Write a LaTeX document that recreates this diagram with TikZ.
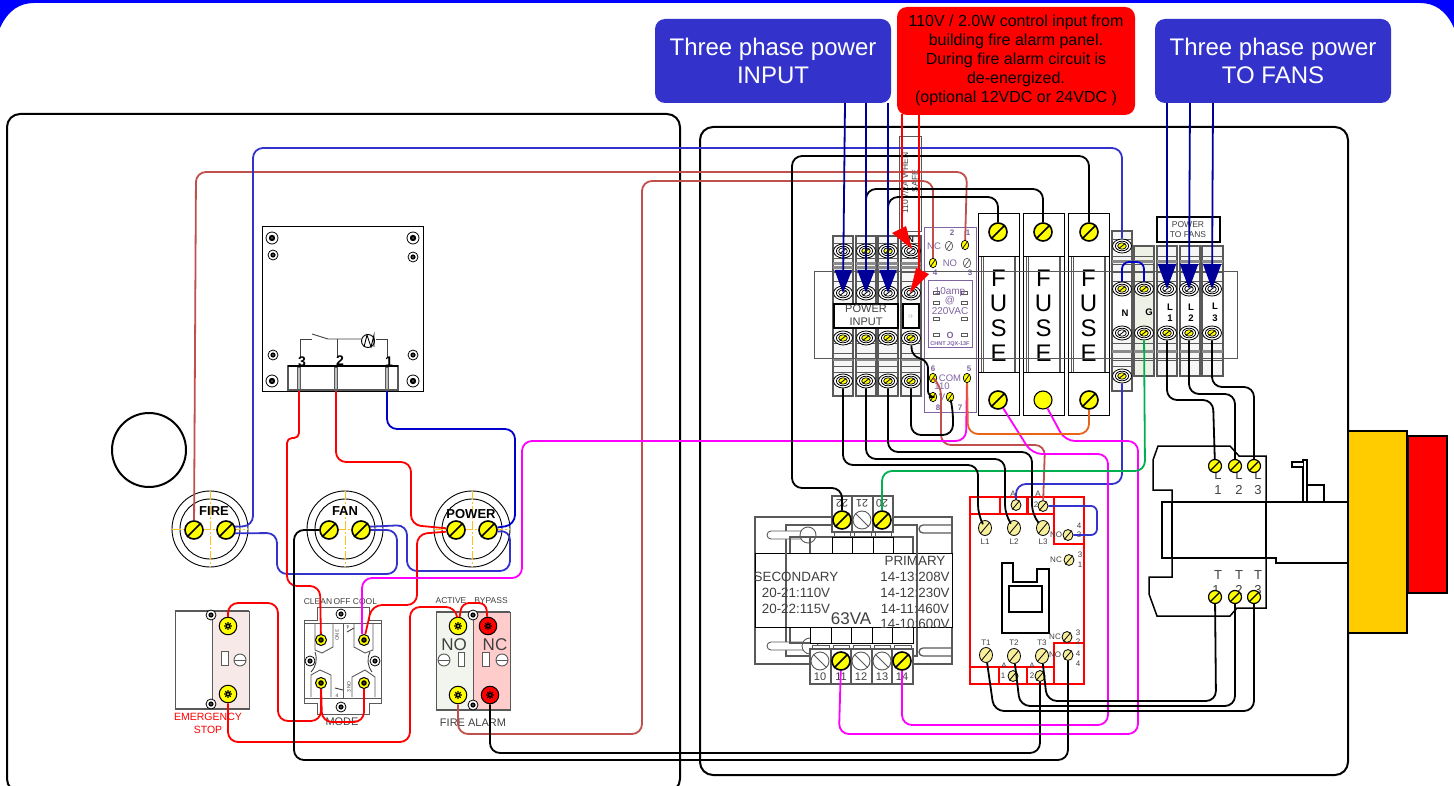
\documentclass[tikz,border=0pt]{standalone}
\usepackage{fontspec}
\setmainfont{Liberation Sans}
\usetikzlibrary{shapes.geometric,arrows.meta}
\definecolor{wbrown}{HTML}{C0504D}
\definecolor{wblue}{HTML}{3333CC}
\definecolor{dblue}{HTML}{0000CC}
\definecolor{nblue}{HTML}{000099}
\definecolor{wgreen}{HTML}{00B050}
\definecolor{worange}{HTML}{E8641B}
\definecolor{wmag}{HTML}{FF00FF}
\definecolor{scry}{HTML}{FFFF00}
\definecolor{palescr}{HTML}{F7EF9A}
\definecolor{relayp}{HTML}{8064A2}
\definecolor{lab}{HTML}{404040}
\definecolor{gline}{HTML}{595959}
\definecolor{capf}{HTML}{F6F6F6}
\definecolor{boxblue}{HTML}{3333CC}
\definecolor{ambr}{HTML}{FFCC00}
\definecolor{stopf}{HTML}{F6E9E7}
\definecolor{noF}{HTML}{F1F5ED}
\definecolor{ncF}{HTML}{FFCCCC}
\definecolor{gF}{HTML}{EDF1E6}
\definecolor{pureblue}{HTML}{0000FF}
\definecolor{cline}{HTML}{FFC020}
\tikzset{
 wire/.style={line width=1.8,rounded corners=10,line join=round},
 wbr/.style={wire,draw=wbrown},
 wbl/.style={wire,draw=wblue},
 wdb/.style={wire,draw=dblue},
 wrd/.style={wire,draw=red},
 wmg/.style={wire,draw=wmag},
 wgr/.style={wire,draw=wgreen},
 wor/.style={wire,draw=worange},
 wbk/.style={wire,draw=black},
 panel/.style={draw=black,line width=2,rounded corners=13},
 thin gray/.style={draw=gline,line width=0.9},
 thick gray/.style={draw=gline,line width=1.3},
 bigsc/.style={circle,draw=black,line width=1.6,fill=scry,minimum size=18,inner sep=0},
 whsc/.style={circle,draw=gline,line width=0.9,fill=white,minimum size=18,inner sep=0},
 outer ell/.style={ellipse,draw=black,line width=0.8,fill=white,minimum width=19,minimum height=14,inner sep=0},
 paleell/.style={ellipse,draw=black,line width=0.8,fill=palescr,minimum width=13,minimum height=15,inner sep=0},
 relayscr/.style={ellipse,draw=black,line width=0.7,fill=scry,minimum width=7.5,minimum height=9.5,inner sep=0},
 relaywh/.style={ellipse,draw=gline,line width=0.7,fill=white,minimum width=7.5,minimum height=9.5,inner sep=0},
 tinysc/.style={circle,draw=black,line width=0.8,fill=white,minimum size=10,inner sep=0},
 phil/.style={circle,draw=black,line width=1,minimum size=17.5,inner sep=0},
 txt/.style={inner sep=0,text=lab,align=center,font=\fontsize{#1}{#1}\selectfont},
 blk/.style={inner sep=0,text=black,align=center,font=\fontsize{#1}{#1}\selectfont},
 bldt/.style={inner sep=0,text=black,align=center,font=\bfseries\fontsize{#1}{#1}\selectfont},
 purp/.style={inner sep=0,text=relayp,align=center,font=\fontsize{#1}{#1}\selectfont},
 purpb/.style={inner sep=0,text=relayp,align=center,font=\bfseries\fontsize{#1}{#1}\selectfont},
 rdt/.style={inner sep=0,text=red,align=center,font=\fontsize{#1}{#1}\selectfont},
 phbox/.style={rounded corners=10,fill=boxblue,inner sep=0},
 redbar/.style={draw=red,line width=2},
}
% big slotted screw
\newcommand{\bscrew}[3]{\node[bigsc] (#1) at (#2,#3) {};\draw[line width=1.6] (#1.225)--(#1.45);}
\newcommand{\mscrew}[3]{\node[bigsc,minimum size=13,line width=1.2] (#1) at (#2,#3) {};\draw[line width=1.3] (#1.225)--(#1.45);}
\newcommand{\bplain}[3]{\node[bigsc,line width=1.1] (#1) at (#2,#3) {};}
\newcommand{\wscrew}[3]{\node[whsc] (#1) at (#2,#3) {};\draw[line width=0.8,draw=gline] (#1.135)--(#1.315);}
% terminal screw
\newcommand{\tscrew}[4]{\node[outer ell] (#1) at (#2,#3) {};
 \draw[line width=0.8,fill=white] (#2,#3) ellipse [x radius=6.6,y radius=4.8];
 \draw[line width=0.7,fill=#4] (#2,#3) ellipse [x radius=4.3,y radius=3.2];
 \draw[line width=0.8] (#2-2.6,#3+2)--(#2+2.6,#3-2);}
\newcommand{\pale}[3]{\node[paleell] (#1) at (#2,#3) {};\draw[line width=0.8] (#1.230)--(#1.50);}
\newcommand{\rscr}[3]{\node[relayscr] (#1) at (#2,#3) {};\draw[line width=0.7] (#1.235)--(#1.55);}
\newcommand{\rwh}[3]{\node[relaywh] (#1) at (#2,#3) {};\draw[line width=0.7,draw=gline] (#1.235)--(#1.55);}
\newcommand{\mnt}[3]{\node[tinysc] (#1) at (#2,#3) {};\fill[black] (#2,#3) circle (2.6);\fill[gray] (#2,#3) circle (0.8);}
\newcommand{\mntb}[3]{\node[tinysc,minimum size=12] (#1) at (#2,#3) {};\fill[black] (#2,#3) circle (3.2);\fill[gray] (#2,#3) circle (0.9);}
% phillips screw: name x y fill
\newcommand{\phl}[4]{\node[phil,fill=#4] (#1) at (#2,#3) {};
 \draw[line width=1.1] (#2-3.8,#3)--(#2+3.8,#3) (#2,#3-3.8)--(#2,#3+3.8) (#2-2.7,#3-2.7)--(#2+2.7,#3+2.7) (#2-2.7,#3+2.7)--(#2+2.7,#3-2.7);
 \fill[#4] (#2,#3) circle (1);}
\newcommand{\phs}[3]{\node[phil,fill=scry,minimum size=11] (#1) at (#2,#3) {};
 \fill[black] (#2,#3) circle (2.8);\fill[scry] (#2,#3) circle (0.7);}
% push button
\newcommand{\pushb}[2]{
 \draw[black,line width=0.9] (#1,#2) circle (38) (#1,#2) circle (30);
 \draw[cline,line width=0.9,dash pattern=on 9pt off 2pt on 2pt off 2pt] (#1-38,#2)--(#1+38,#2) (#1,#2-38)--(#1,#2+38);}
\newcommand{\bands}[4]{
 \foreach \yy in {#3}{\draw[thin gray] (#1,\yy)--(#2,\yy);}
 \foreach \yy in {#4}{\fill[gline!70] (#1,\yy) rectangle (#2,\yy+3);}}
\begin{document}
\begin{tikzpicture}[x=1pt,y=-1pt]
\useasboundingbox (0,0) rectangle (1454,786);
\clip (0,0) rectangle (1454,786);
% page frame
\fill[pureblue] (0,0)--(1454,0)--(1454,28) .. controls (1446,10) and (1434,3) .. (1420,3) -- (34,3) .. controls (20,3) and (8,10) .. (0,28) -- cycle;
% panels
\draw[panel] (7,114) rectangle (680,792);
\draw[panel] (700,127) rectangle (1348,775);
\draw[line width=2] (149,450) circle (37);
% ---------- thermostat / relay box
\draw[line width=1,draw=black] (262,227) rectangle (423,391);
\draw[thick gray] (288,366) rectangle (398,390);
\draw[line width=1.1,draw=black] (288,366)--(398,366);
\foreach \px in {299,336,387}{\draw[thin gray,fill=gline!40] (\px-1.5,367) rectangle (\px+1.5,389);}
\mntb{ra}{272}{238}\mntb{rb}{413}{238}\mntb{rc}{272}{381}\mntb{rd}{413}{381}
\mnt{re}{273}{255}\mnt{rf}{413}{257}\mnt{rg}{273}{355}\mnt{rh}{413}{355}
\draw[line width=0.9,draw=lab] (300,358)--(300,339)--(312,339);
\draw[line width=0.9,draw=lab] (312,334)--(328,339)--(361,339);
\draw[line width=0.9,draw=lab] (337,339)--(337,358);
\draw[line width=0.9,draw=lab] (376,339)--(387,339)--(387,358);
\node[circle,draw=black,line width=0.9,minimum size=13,inner sep=0] (motor) at (368,341) {};
\draw[line width=0.9] (364,347)--(367,335)--(371,347)--(374,335)--(374,347);
\node[bldt=14] (l3) at (302,362) {3};
\node[bldt=14] (l2) at (340,361) {2};
\node[bldt=14] (l1) at (389,362) {1};
% ---------- push buttons
\pushb{210}{529}\pushb{345}{529}\pushb{472}{529}
\bscrew{f1}{194}{530}\bscrew{f2}{226}{530}
\bscrew{n1}{329}{530}\bscrew{n2}{361}{530}
\bscrew{p1}{456}{530}\bscrew{p2}{488}{530}
\node[bldt=13] (fireL) at (214,511) {FIRE};
\node[bldt=13] (fanL) at (345,511) {FAN};
\node[bldt=13] (powL) at (471,514) {POWER};
% ---------- emergency stop
\draw[line width=1,draw=gline] (175,611) rectangle (249,709);
\draw[line width=1,draw=gline,fill=stopf] (212,611) rectangle (249,709);
\draw[line width=1.4,draw=gline] (175,611)--(249,611) (175,709)--(249,709);
\draw[thin gray,fill=white] (221,651) rectangle (228,665);
\draw[thin gray,fill=white] (240,660) circle (6);
\draw[thin gray] (234,660)--(246,660);
\mnt{e1}{211}{615}\mnt{e2}{211}{704}
\phl{e3}{228}{626}{scry}\phl{e4}{228}{694}{scry}
\node[rdt=10.5] (estop) at (208,723.5) {EMERGENCY\\[3pt]STOP};
% ---------- mode switch
\draw[line width=1,draw=gline,fill=white] (317,620)--(317,607)--(369,607)--(369,620)--(381,620)--(381,703)--(369,703)--(369,714)--(317,714)--(317,703)--(304,703)--(304,620)--cycle;
\draw[line width=1,draw=gline] (304,698)--(381,698) (304,623)--(381,623) (343,623)--(343,698);
\draw[thin gray] (315,624)--(315,650)--(322,653)--(333,647)--(333,624);
\draw[thin gray] (354,624)--(354,647)--(365,653)--(373,650)--(373,624);
\draw[thin gray] (311,697)--(311,675)--(320,670)--(331,675)--(331,697);
\draw[thin gray] (352,697)--(352,677)--(365,670)--(375,677)--(375,697);
\draw[line width=0.9,draw=lab] (315,652) to[bend left=30] (311,672);
\draw[line width=0.9,draw=lab] (370,652) to[bend right=30] (372,672);
\draw[line width=0.9,draw=lab] (335,688)--(343,690) (347,632)--(354,628);
\node[txt=5,rotate=-90] (m3) at (337,635) {3 NO};
\node[txt=5,rotate=90] (m4) at (349,687) {3 NO};
\node[txt=5] (m5) at (337,696) {4};
\node[txt=5,rotate=180] (m6) at (348,627) {4};
\mnt{m1}{341}{614}\mnt{m2}{341}{707}\mnt{m7}{310}{661}\mnt{m8}{375}{661}
\phs{mA}{321}{640}\phs{mB}{364}{640}\phs{mC}{321}{683}\phs{mD}{364}{683}
\node[txt=8.5] (clean) at (318,602) {CLEAN};
\node[txt=8.5] (off) at (342,602) {OFF};
\node[txt=8.5] (cool) at (365,602) {COOL};
\node[txt=11] (mode) at (342,722) {MODE};
% ---------- fire alarm contacts
\draw[line width=1,draw=gline,fill=noF] (436,612) rectangle (473,710);
\draw[line width=1,draw=gline,fill=ncF] (473,612) rectangle (510,710);
\draw[line width=1.4,draw=gline] (436,612)--(510,612) (436,710)--(510,710);
\draw[thin gray,fill=white] (458,652) rectangle (464,666);
\draw[thin gray,fill=white] (444,660) circle (6);
\draw[thin gray] (438,660)--(450,660);
\draw[thin gray,fill=white] (482,652) rectangle (489,666);
\draw[thin gray,fill=white] (502,660) circle (6);
\draw[thin gray] (496,660)--(508,660);
\mnt{a5}{473}{615}\mnt{a6}{473}{705}
\phl{a1}{458}{626}{scry}\phl{a2}{488}{626}{red}\phl{a3}{458}{695}{scry}\phl{a4}{490}{695}{red}
\node[txt=17] (noT) at (454,645) {NO};
\node[txt=17] (ncT) at (495,645) {NC};
\node[txt=8.5] (act) at (451,601) {ACTIVE};
\node[txt=8.5] (byp) at (491,601) {BYPASS};
\node[txt=11] (fal) at (473,723) {FIRE ALARM};
% ---------- power input terminals
\foreach \xa/\xb in {833/853,856/876,878/898,901/921}{
 \draw[thick gray,fill=capf] (\xa,236) rectangle (\xb,396);
 \bands{\xa}{\xb}{243,258,272,281,343,353,366,372}{262,266,358};
}
\draw[line width=1.8,fill=white] (834,304) rectangle (898,328);
\draw[line width=1.8,fill=white] (903,304) rectangle (919,328);
\node[txt=11] (pin) at (866,315.5) {POWER\\[2pt]INPUT};
\node[txt=4,text=gray] (pin2) at (911,316) {|:|-};
% ---------- fan terminals
\draw[thick gray,fill=capf] (1112,231) rectangle (1132,391);
\bands{1112}{1132}{239,256,264,272,281,343,352,360,366}{260,350};
\draw[thick gray,fill=gF] (1134,246) rectangle (1154,376);
\bands{1134}{1154}{256,264,272,281,343,352,360}{260,350};
\foreach \xa/\xb in {1157/1177,1180/1200,1202/1223}{
 \draw[thick gray,fill=capf] (\xa,246) rectangle (\xb,376);
 \bands{\xa}{\xb}{256,264,272,281,343,352,360}{260,350};
}
\draw[line width=1.5,fill=white] (1157,217) rectangle (1220,242);
\node[txt=8.5] (ptf) at (1188,229.5) {POWER\\[2pt]TO FANS};
\fill[white] (1113,297) rectangle (1131,325);
\fill[gF] (1135,297) rectangle (1153,325);
\foreach \xa/\xb in {1158/1176,1181/1199,1203/1222}{\fill[white] (\xa,297) rectangle (\xb,325);}
\node[bldt=9.5] (nL) at (1125,313) {N};
\node[bldt=9.5] (gL) at (1149,312) {G};
\node[bldt=9.5] (la) at (1170,312.5) {L\\[2pt]1};
\node[bldt=9.5] (lb) at (1191,312.5) {L\\[2pt]2};
\node[bldt=9.5] (lc) at (1215,312.5) {L\\[2pt]3};
% ---------- fuses
\foreach \xa in {978,1023,1068}{
 \draw[line width=1,fill=white] (\xa,214) rectangle (\xa+41.5,415);
 \draw[line width=1] (\xa,257)--(\xa+41.5,257) (\xa,372)--(\xa+41.5,372);
 \draw[thin gray] (\xa+3.5,257)--(\xa+3.5,372) (\xa+37.5,257)--(\xa+37.5,372) (\xa+5.5,257)--(\xa+5.5,372) (\xa+36,257)--(\xa+36,372);
 \node[blk=24] at (\xa+20.5,278) {F};
 \node[blk=24] at (\xa+20.5,303) {U};
 \node[blk=24] at (\xa+20.5,328) {S};
 \node[blk=24] at (\xa+20.5,353) {E};
}
% ---------- control relay
\draw[line width=1,draw=relayp,fill=white] (924,228) rectangle (976,412);
\draw[line width=1,draw=relayp] (928,281) rectangle (972,348);
\foreach \yy in {293,303,319,335}{
 \draw[line width=0.7,draw=gline,fill=white] (933,\yy-1.5) rectangle (939,\yy+1.5);
 \draw[line width=0.7,draw=gline,fill=white] (961,\yy-1.5) rectangle (967,\yy+1.5);}
\node[purp=10] (amp) at (950,292) {10amp};
\node[purp=10] (atp) at (950,301) {@};
\node[purp=10] (vac) at (950,311) {220VAC};
\node[purpb=9] (oo) at (950,335) {O};
\node[purpb=5.5] (chnt) at (950,344) {CHNT JQX-13F};
\node[purpb=8] (r2) at (952,233) {2};
\node[purpb=8] (r1) at (968,233) {1};
\node[purpb=8] (r4) at (935,273) {4};
\node[purpb=8] (r3) at (970,273) {3};
\node[purpb=8] (r6) at (933,369) {6};
\node[purpb=8] (r5) at (969,369) {5};
\node[purpb=8] (r8) at (938,408) {8};
\node[purpb=8] (r7) at (960,408) {7};
\node[purp=9.5] (rnc) at (934,246) {NC};
\node[purp=9.5] (rno) at (950,263) {NO};
\node[purp=9.5] (rcom) at (950,378) {COM};
\node[purp=9.5] (r110) at (942,386) {110};
\node[purp=9.5] (rv) at (942,397) {V};
\rscr{rt1}{965}{245}\rwh{rt2}{949}{246}\rwh{rt3}{967}{263}\rscr{rt4}{933}{263}
\rscr{rt6}{933}{378}\rscr{rt5}{967}{378}\rscr{rt8}{933}{397}\rscr{rt7}{950}{397}
% din rail
\draw[line width=1,draw=gline] (814,272) rectangle (1237,358);
% terminal screws
\foreach \nn/\xx in {a/843,b/866,c/888,d/911}{
 \tscrew{t\nn3}{\xx}{338}{scry}
 \tscrew{t\nn4}{\xx}{381}{scry}
 \tscrew{t\nn2}{\xx}{293}{white}
}
\tscrew{ta1}{843}{251}{white}\tscrew{tb1}{866}{251}{scry}\tscrew{tc1}{888}{251}{scry}\tscrew{td1}{911}{251}{white}
\tscrew{nt1}{1122}{246}{scry}\tscrew{nt2}{1122}{289}{scry}\tscrew{nt3}{1122}{333}{white}\tscrew{nt4}{1122}{376}{scry}
\tscrew{gt2}{1144}{289}{scry}\tscrew{gt3}{1144}{333}{scry}
\tscrew{la1}{1167}{289}{white}\tscrew{lb1}{1189}{289}{white}\tscrew{lc1}{1212}{289}{white}
\tscrew{la2}{1167}{333}{scry}\tscrew{lb2}{1189}{333}{scry}\tscrew{lc2}{1212}{333}{scry}
\bscrew{fu1}{998}{232}\bscrew{fu2}{1043}{232}\bscrew{fu3}{1089}{232}
\bscrew{fd1}{998}{400}\bplain{fd2}{1043}{400}\bscrew{fd3}{1089}{400}
% ---------- transformer
\draw[thick gray] (755,517) rectangle (952,664);
\draw[thick gray] (786,525) rectangle (917,656);
\draw[thin gray,fill=white] (771,531) arc (270:90:4) -- (804,539) -- (804,531) -- cycle;
\draw[thin gray,fill=white] (808,535) circle (8);
\draw[thin gray,fill=white] (771,642) arc (270:90:4) -- (806,650) -- (806,642) -- cycle;
\draw[thin gray,fill=white] (810,646) circle (8);
\draw[thick gray] (952,525)--(923,525) arc (270:90:4) -- (952,533);
\draw[thick gray] (952,648)--(923,648) arc (270:90:4) -- (952,656);
\draw[thick gray] (790,553)--(790,537)--(913,537)--(913,553);
\draw[thick gray] (790,627)--(790,643)--(810,643);
\draw[thick gray] (810,537)--(810,553);
\draw[line width=1,fill=white] (755,553) rectangle (952,627);
\draw[thick gray,draw=gline] (786,553)--(786,627) (917,553)--(917,627);
\foreach \xx/\yy in {832/852,852/873,873/893}{
 \draw[thick gray,fill=white] (\xx,496) rectangle (\yy,532);
 \draw[thin gray,fill=white] (\xx+2,532) rectangle (\yy-2,536);
 \draw[line width=1,fill=white] (\xx,537) rectangle (\yy,553);
}
\foreach \xx/\yy in {810/831,831/851,851/872,872/892,892/913}{
 \draw[line width=1,fill=white] (\xx,627) rectangle (\yy,643);
 \draw[thin gray,fill=white] (\xx+2,645) rectangle (\yy-2,649);
 \draw[thick gray,fill=white] (\xx,649) rectangle (\yy,684);
}
\node[txt=11,rotate=180] (t22) at (842,503) {22};
\node[txt=11,rotate=180] (t21) at (862,503) {21};
\node[txt=11,rotate=180] (t20) at (882,503) {20};
\node[txt=11] (t10) at (820,677) {10};
\node[txt=11] (t11) at (841,677) {11};
\node[txt=11] (t12) at (861,677) {12};
\node[txt=11] (t13) at (882,677) {13};
\node[txt=11] (t14) at (902,677) {14};
\bscrew{x22}{842}{520}\wscrew{x21}{862}{520}\bscrew{x20}{882}{520}
\wscrew{x10}{820}{661}\bscrew{x11}{841}{661}\wscrew{x12}{861}{661}\wscrew{x13}{882}{661}\bscrew{x14}{902}{661}
\node[txt=13.4] (sec) at (796,577) {SECONDARY};
\node[txt=13.4] (s1) at (796,592.5) {20-21:110V};
\node[txt=13.4] (s2) at (796,608.5) {20-22:115V};
\node[txt=17] (va) at (851,619) {63VA};
\node[txt=13.4] (pri) at (915,560.5) {PRIMARY};
\node[txt=13.4] (p1t) at (915,577) {14-13:208V};
\node[txt=13.4] (p2t) at (915,592.5) {14-12:230V};
\node[txt=13.4] (p3t) at (915,608.5) {14-11:460V};
\node[txt=13.4] (p4t) at (915,624) {14-10:600V};
% ---------- contactor
\draw[redbar] (970,497) rectangle (1084,684);
\draw[redbar] (970,514)--(1054,514)--(1054,497);
\draw[redbar] (1000,497) rectangle (1027,514);
\draw[redbar] (1028,497) rectangle (1054,514);
\draw[redbar] (1054,514)--(1054,544)--(1084,544);
\draw[redbar] (1084,643)--(1054,643)--(1054,684);
\draw[redbar] (970,667)--(1054,667);
\draw[redbar] (999,667) rectangle (1027,684);
\draw[redbar] (1027,667) rectangle (1054,684);
\draw[line width=1.6] (1002,563)--(1013,563)--(1013,582)--(1037,582)--(1037,569)--(1049,569)--(1049,633)--(1002,633)--cycle;
\draw[line width=1.6] (1009,586) rectangle (1042,612);
\pale{cL1}{985}{528}\pale{cL2}{1014}{528}\pale{cL3}{1043}{528}
\pale{cT1}{986}{655}\pale{cT2}{1014}{656}\pale{cT3}{1042}{656}
\foreach \nm/\xx/\yy in {cA1/1016/505,cA2/1043/506,cNO1/1068/535,cNC1/1069/560,cNC2/1067/637,cNO2/1068/655,cB1/1013/676,cB2/1040/676}{
 \node[ellipse,draw=black,line width=0.8,fill=palescr,minimum width=10,minimum height=11,inner sep=0] (\nm) at (\xx,\yy) {};
 \draw[line width=0.8] (\nm.230)--(\nm.50);}
\foreach \tx/\xx/\yy [count=\ci] in {L1/985/542,L2/1014/542,L3/1043/542,T1/986/643,T2/1014/643,T3/1042/643,NO/1056/535,NC/1056/560,NC/1055/637,NO/1055/655,A/1013/494,A/1038/494,A/1004/666,A/1032/666}{
 \node[txt=8] (ct\ci) at (\xx,\yy) {\tx};}
\foreach \tx/\xx/\yy [count=\ci] in {4/1079/526,3/1079/535,3/1080/555,1/1080/565,3/1078/633,2/1078/642,4/1078/654,4/1078/664,2/1036/505,1/1003/676,2/1032/676}{
 \node[txt=8] (cn\ci) at (\xx,\yy) {\tx};}
% ---------- motor protector
\draw[line width=1.5,fill=white] (1158,446)--(1230,446)--(1239,456)--(1266,456)--(1266,608)--(1237,608)--(1230,616)--(1157,616)--(1149,594)--(1149,577)--(1172,577)--(1172,490)--(1153,490)--(1153,460)--cycle;
\draw[line width=1.3,fill=white] (1303,502)--(1303,460)--(1307,460)--(1307,502);
\draw[line width=1.3,fill=white] (1303,462)--(1292,462)--(1292,467)--(1303,467);
\draw[line width=1.3] (1307,485)--(1324,485)--(1324,502);
\draw[line width=1.3] (1348,502)--(1162,502)--(1162,558)--(1276,558)--(1276,563)--(1348,563);
\draw[line width=1.5] (1172,502)--(1172,558) (1266,502)--(1266,558);
\foreach \tx/\xx/\yy [count=\ci] in {L/1218/475,1/1218/490,L/1239/475,2/1239/490,L/1258/475,3/1258/490,T/1218/575,1/1216/590,T/1239/575,2/1239/590,T/1258/575,3/1258/590}{
 \node[txt=13] (pt\ci) at (\xx,\yy) {\tx};}
\mscrew{mL1}{1215}{466}\mscrew{mL2}{1235}{466}\mscrew{mL3}{1254}{466}
\mscrew{mT1}{1215}{597}\mscrew{mT2}{1235}{597}\mscrew{mT3}{1254}{597}
\draw[line width=1.5,fill=red] (1408,436) rectangle (1447,593);
\draw[line width=1.5,fill=ambr] (1348,431) rectangle (1407,633);
% ---------- label in box
\draw[line width=1,draw=gline] (899,137) rectangle (921,232);
\node[txt=8.5,rotate=90] (w110) at (905,183) {110V/2A WHEN};
\node[txt=8.5,rotate=90] (wsafe) at (915,181) {SAFE};
\node[bldt=8] (wn) at (911,240) {N};
% ---------- callout boxes
\node[phbox,minimum width=236,minimum height=84] (inbox) at (773,61) {};
\node[phbox,minimum width=236,minimum height=84] (fanbox) at (1273,61) {};
\node[rounded corners=10,fill=red,inner sep=0,minimum width=238,minimum height=108] (redbox) at (1016,61) {};
\node[inner sep=0,text=white,align=center,font=\fontsize{24}{28}\selectfont] (intext) at (773,60.5) {Three phase power\\INPUT};
\node[inner sep=0,text=white,align=center,font=\fontsize{24}{28}\selectfont] (fantext) at (1273,60.5) {Three phase power\\TO FANS};
\node[inner sep=0,text=black,align=center,font=\fontsize{16}{19}\selectfont] (redtext) at (1016,60) {110V / 2.0W control input from\\building fire alarm panel.\\During fire alarm circuit is\\de-energized.\\(optional 12VDC or 24VDC )};
% ---------- wires: brown
\draw[wbr] (f1) -- (196,172) -- (967,172) -- (rt1);
\draw[wbr] (a3) -- (458,734) -- (642,734) -- (642,181) -- (933,181) -- (rt4);
\draw[wbr] (rt6) -- (941,385) -- (941,445) -- (1045,445) -- (cA2);
% blue
\draw[wbl] (f2.20) -- (253,526) -- (253,148) -- (1122,148) -- (nt1);
\draw[wbl] (f2.-20) -- (277,533) -- (277,574) -- (397,574) -- (397,530) -- (n2);
\draw[wbl] (n2.20) -- (407,525) -- (407,571) -- (510,571) -- (510,530) -- (p2.-10);
\draw[wdb] (387,391) -- (387,429) -- (515,429) -- (515,525) -- (p2.15);
\draw[wbl] (cA1) -- (1016,484) -- (1122,484) -- (nt4);
\draw[wbl,rounded corners=6] (cA2) -- (1097,506) -- (1097,535) -- (cNO1);
\draw[wdb,rounded corners=7] (nt2) -- (1122,262) -- (1144,262) -- (gt2);
% red
\draw[wrd,rounded corners=5] (299,391) -- (299,438) -- (287,438) [rounded corners=10] -- (287,586) -- (320,586) -- (mA);
\draw[wrd] (336,391) -- (336,462) -- (411,462) -- (411,525) -- (p1.170);
\draw[wrd] (p1.190) -- (417,534) -- (417,605) -- (372,605) -- (mB);
\draw[wrd] (e3) -- (228,603) -- (278,603) -- (278,721) -- (321,721) -- (mC);
\draw[wrd] (e4) -- (228,742) -- (410,742) -- (410,607) -- (456,607) -- (a1);
\draw[wrd,rounded corners=7] (a1) -- (462,603) -- (486,603) -- (a2);
\draw[wrd] (mC) -- (322,722) -- (364,722) -- (mD);
% magenta
\draw[wmg] (rt5) -- (966,441) -- (522,441) -- (522,578) -- (362,578) -- (362,634);
\draw[wmg] (fd1) -- (1032,454) -- (1108,454) -- (1108,725) -- (902,725) -- (x14);
\draw[wmg] (fd2) -- (1065,441) -- (1138,441) -- (1138,734) -- (839,734) -- (x11);
% green, orange
\draw[wgr] (x20) -- (882,471) -- (1145,471) -- (gt3);
\draw[wor] (rt5) -- (968,434) -- (1089,434) -- (fd3);
% black
\draw[wbk] (n1) -- (294,530) -- (294,760) -- (1068,760) -- (cNO2);
\draw[wbk] (a4) -- (490,753) -- (1040,753) -- (cB2);
\draw[wbk] (x22) -- (842,488) -- (792,488) -- (792,156) -- (1089,156) -- (fu3);
\draw[wbk] (tb1) -- (866,189) -- (1043,189) -- (fu2);
\draw[wbk] (tc1) -- (888,197) -- (998,197) -- (fu1);
\draw[wbk,rounded corners=6] (td3) -- (912,355) -- (928,362) -- (928,397) -- (rt8);
\draw[wbk] (td4) -- (911,435) -- (953,435) -- (953,410) -- (rt7);
\draw[wbk] (ta4) -- (843,465) -- (978,465) -- (978,515) -- (cL1);
\draw[wbk] (tb4) -- (866,459) -- (1005,459) -- (1005,515) -- (cL2);
\draw[wbk] (tc4) -- (888,452) -- (1032,452) -- (1032,515) -- (cL3);
\draw[wbk] (la2) -- (1167,400) -- (1213,400) -- (mL1);
\draw[wbk] (lb2) -- (1189,394) -- (1235,394) -- (mL2);
\draw[wbk] (lc2) -- (1212,387) -- (1254,387) -- (mL3);
\draw[wbk] (cT3) -- (1047,701) -- (1216,701) -- (mT1);
\draw[wbk] (cT2) -- (1020,706) -- (1235,706) -- (mT2);
\draw[wbk] (cT1) -- (994,711) -- (1254,711) -- (mT3);
% arrows
\foreach \dd/\xx in {ta2/845,tb2/866,tc2/888}{
 \draw[line width=1.8,draw=nblue,-{Triangle[width=17,length=23]}] (\xx,103) -- (\dd.center);}
\foreach \dd/\xx in {la1/1167,lb1/1190,lc1/1213}{
 \draw[line width=1.8,draw=nblue,-{Triangle[width=18,length=25]}] (\xx,103) -- (\dd.center);}
\draw[line width=1.5,draw=red] (902,114) -- (902,228);
\fill[red] (892,233)--(906,226)--(912,249)--cycle;
\draw[line width=1.5,draw=red] (919,114) -- (919,272);
\fill[red] (916,268)--(929,274)--(910,293)--cycle;
\end{tikzpicture}
\end{document}
